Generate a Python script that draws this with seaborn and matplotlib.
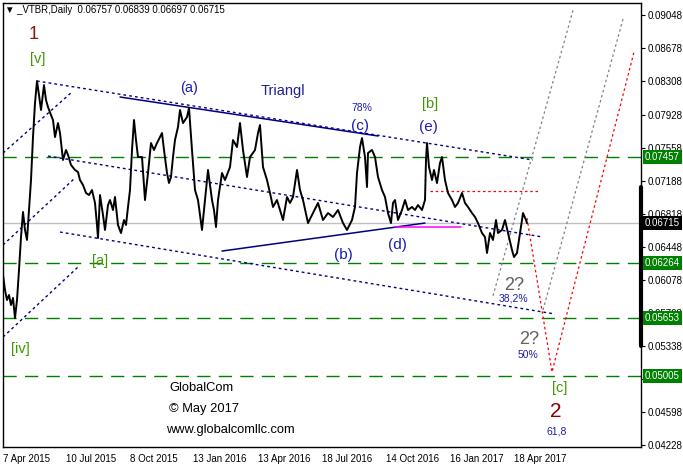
import matplotlib
matplotlib.use("Agg")
import matplotlib.pyplot as plt
import matplotlib.transforms as mtransforms
import seaborn as sns
import pandas as pd

# ---- price series (bar index, close) ----
bars = [0, 2, 4, 6, 8, 10, 12, 14, 16, 18, 20, 22, 24, 26, 28, 30, 32, 34, 36, 38,
        41, 43, 45, 48, 50, 52, 55, 57, 60, 63, 65, 68, 72, 75, 77, 80, 83, 86, 89, 92,
        94, 95, 97, 100, 102, 105, 107, 110, 112, 115, 118, 121, 123, 125, 127, 129, 131, 133, 135, 139,
        142, 145, 148, 151, 154, 157, 159, 161, 164, 166, 168, 170, 172, 175, 177, 180, 184, 186, 189, 192,
        195, 197, 199, 202, 205, 209, 211, 213, 215, 219, 222, 227, 230, 234, 237, 240, 244, 247, 252, 255,
        257, 260, 264, 267, 270, 274, 277, 280, 284, 287, 290, 294, 297, 300, 305, 310, 315, 320, 325, 330,
        335, 340, 344, 349, 352, 354, 357, 359, 362, 364, 365, 369, 372, 375, 379, 382, 385, 388, 390, 392,
        395, 399, 402, 405, 409, 412, 415, 419, 422, 423, 424, 426, 429, 431, 434, 437, 439, 442, 445, 449,
        452, 455, 459, 462, 465, 469, 472, 475, 479, 482, 484, 487, 490, 493, 495, 499, 502, 505, 509, 511,
        514, 516, 519, 520, 523, 524]
closes = [0.06133, 0.05965, 0.05853, 0.05909, 0.05797, 0.05876, 0.05651, 0.05853, 0.06189, 0.06559,
          0.06840, 0.06638, 0.06526, 0.06862, 0.07198, 0.07680, 0.08062, 0.08308, 0.08151, 0.07983,
          0.08263, 0.08095, 0.08017, 0.07927, 0.07871, 0.07680, 0.07837, 0.07725, 0.07423, 0.07535,
          0.07479, 0.07367, 0.07311, 0.07288, 0.07198, 0.07142, 0.07053, 0.07030, 0.07086, 0.06941,
          0.06694, 0.06548, 0.07030, 0.06806, 0.06638, 0.06918, 0.06974, 0.06862, 0.07008, 0.06694,
          0.06604, 0.06750, 0.06694, 0.06896, 0.07086, 0.07535, 0.07871, 0.07647, 0.07456, 0.07456,
          0.06974, 0.07277, 0.07613, 0.07535, 0.07613, 0.07680, 0.07725, 0.07535, 0.07277, 0.07165,
          0.07232, 0.07456, 0.07647, 0.07793, 0.07983, 0.07837, 0.07905, 0.08006, 0.07535, 0.07086,
          0.06974, 0.06806, 0.06638, 0.06974, 0.07311, 0.06974, 0.06862, 0.06671, 0.06974, 0.07277,
          0.07198, 0.07344, 0.07647, 0.07568, 0.07837, 0.07535, 0.07232, 0.07456, 0.07535, 0.07725,
          0.07815, 0.07344, 0.07198, 0.07053, 0.06896, 0.06974, 0.06862, 0.06750, 0.07008, 0.06941,
          0.07008, 0.07311, 0.07086, 0.06974, 0.06716, 0.06828, 0.06941, 0.06750, 0.06828, 0.06784,
          0.06862, 0.06716, 0.06638, 0.06750, 0.06896, 0.07277, 0.07568, 0.07669, 0.07456, 0.07120,
          0.07501, 0.07535, 0.07456, 0.07232, 0.07086, 0.07008, 0.06828, 0.06716, 0.06941, 0.06974,
          0.06750, 0.06862, 0.06974, 0.06862, 0.06896, 0.06862, 0.06918, 0.06862, 0.06974, 0.07423,
          0.07613, 0.07344, 0.07198, 0.07311, 0.07165, 0.07389, 0.07456, 0.07198, 0.07053, 0.06974,
          0.06896, 0.06941, 0.07053, 0.06941, 0.06896, 0.06828, 0.06784, 0.06716, 0.06604, 0.06559,
          0.06380, 0.06604, 0.06526, 0.06750, 0.06604, 0.06638, 0.06750, 0.06604, 0.06414, 0.06335,
          0.06380, 0.06526, 0.06750, 0.06828, 0.06750, 0.06715]

# axis labels
date_ticks = [0, 63, 127, 190, 255, 319, 383, 447, 511]
date_labels = ["7 Apr 2015", "10 Jul 2015", "8 Oct 2015", "13 Jan 2016", "13 Apr 2016",
               "18 Jul 2016", "14 Oct 2016", "16 Jan 2017", "18 Apr 2017"]
price_ticks = [0.09048, 0.08678, 0.08308, 0.07928, 0.07558, 0.07188, 0.06818,
               0.06448, 0.06078, 0.05708, 0.05338, 0.04968, 0.04598, 0.04228]
price_tick_labels = ["0.09048", "0.08678", "0.08308", "0.07928", "0.07558", "0.07188", "0.06818",
                     "0.06448", "0.06078", "0.05708", "0.05338", "0.04968", "0.04598", "0.04228"]

# horizontal levels
green_levels = [0.07457, 0.06264, 0.05653, 0.05005]
current_price = 0.06715

# trend / channel lines: (x0, y0, x1, y1)
navy_dotted = [(34, 0.08308, 530, 0.07423),
               (45, 0.07467, 540, 0.06559),
               (57, 0.06615, 552, 0.05696),
               (0, 0.07501, 69, 0.08185),
               (0, 0.06470, 72, 0.07221),
               (0, 0.05438, 75, 0.06223)]
navy_solid = [(117, 0.08129, 375, 0.07692),
              (219, 0.06402, 422, 0.06716)]
magenta_line = (392, 0.06671, 458, 0.06671)
red_hline = (427, 0.07075, 537, 0.07075)
red_path_x = [524, 549, 631]
red_path_y = [0.06772, 0.05046, 0.08633]
grey_lines = [(540, 0.05741, 620, 0.09003),
              (490, 0.05900, 570, 0.09100)]

sns.set_theme(style="white")
plt.rcParams["font.family"] = ["Liberation Sans", "DejaVu Sans"]

fig = plt.figure(figsize=(6.83, 4.68), dpi=100)
ax = fig.add_axes([3 / 683, 1 - 447 / 468, 638 / 683, 444 / 468])
ax.set_facecolor("white")

df = pd.DataFrame({"bar": bars, "close": closes})

# levels
for lv in green_levels:
    ax.axhline(lv, color="#008000", lw=1.0, ls=(0, (9.5, 6)), zorder=1)
ax.axhline(current_price, color="#C0C0C0", lw=1.0, zorder=1)

for x0, y0, x1, y1 in navy_dotted:
    ax.plot([x0, x1], [y0, y1], color="#000080", lw=1.0, ls=(0, (2, 2.2)), zorder=2)
for x0, y0, x1, y1 in navy_solid:
    ax.plot([x0, x1], [y0, y1], color="#000080", lw=1.1, zorder=2)
ax.plot([magenta_line[0], magenta_line[2]], [magenta_line[1], magenta_line[3]], color="#FF00FF", lw=1.1, zorder=2)
ax.plot([red_hline[0], red_hline[2]], [red_hline[1], red_hline[3]], color="#FF0000", lw=0.9, ls=(0, (2, 2.2)), zorder=2)
ax.plot(red_path_x, red_path_y, color="#FF0000", lw=0.9, ls=(0, (2, 2.2)), zorder=2)
for x0, y0, x1, y1 in grey_lines:
    ax.plot([x0, x1], [y0, y1], color="#808080", lw=0.9, ls=(0, (2, 2.2)), zorder=2)

sns.lineplot(data=df, x="bar", y="close", ax=ax, color="black", lw=1.4, zorder=3)

ax.set_xlim(0, 638)
ax.set_ylim(0.04205, 0.09183)
ax.set_xlabel("")
ax.set_ylabel("")

ax.set_xticks(date_ticks)
ax.set_xticklabels(date_labels, fontsize=7, ha="left")
ax.yaxis.tick_right()
ax.set_yticks(price_ticks)
ax.set_yticklabels(price_tick_labels, fontsize=7)
ax.tick_params(axis="both", direction="out", length=3, width=0.8, colors="black", pad=1.5)
ax.tick_params(axis="x", pad=2)
for s in ax.spines.values():
    s.set_color("black")
    s.set_linewidth(1.0)

# thick bar on right spine
trans_r = mtransforms.blended_transform_factory(ax.transAxes, ax.transData)
ax.plot([1.0, 1.0], [0.07120, 0.05340], transform=trans_r, color="black", lw=3, clip_on=False, zorder=5)

# price boxes
def price_box(val, fc):
    ax.text(1.006, val, f"{val:.5f}", transform=trans_r, fontsize=7, color="white",
            va="center", ha="left", clip_on=False, zorder=6,
            bbox=dict(boxstyle="square,pad=0.2", fc=fc, ec="none"))

for lv in green_levels:
    price_box(lv, "#008000")
price_box(current_price, "black")

# annotations
navy = "#1C1CB4"
green = "#3C9A00"
darkred = "#8B0000"

ax.text(2, 0.09183 - 0.00075, "\u25BC _VTBR,Daily  0.06757 0.06839 0.06697 0.06715",
        fontsize=6.9, color="black", va="center", ha="left")
ax.text(31, 0.08830, "1", fontsize=13, color="#8B1A00", ha="center", va="center")
ax.text(35, 0.08550, "[v]", fontsize=10.5, color=green, ha="center", va="center")
ax.text(186, 0.08230, "(a)", fontsize=10.5, color=navy, ha="center", va="center")
ax.text(280, 0.08200, "Triangl", fontsize=10.5, color="#202090", ha="center", va="center")
ax.text(359, 0.08010, "78%", fontsize=7.5, color=navy, ha="center", va="center")
ax.text(357, 0.07800, "(c)", fontsize=11, color=navy, ha="center", va="center")
ax.text(427, 0.08050, "[b]", fontsize=10.5, color=green, ha="center", va="center")
ax.text(425, 0.07790, "(e)", fontsize=11, color=navy, ha="center", va="center")
ax.text(340, 0.06355, "(b)", fontsize=11, color=navy, ha="center", va="center")
ax.text(394, 0.06470, "(d)", fontsize=11, color=navy, ha="center", va="center")
ax.text(97, 0.06290, "[a]", fontsize=10.5, color=green, ha="center", va="center")
ax.text(17, 0.05300, "[iv]", fontsize=10.5, color=green, ha="center", va="center")
ax.text(511, 0.06020, "2?", fontsize=13, color="#606060", ha="center", va="center")
ax.text(510, 0.05870, "38,2%", fontsize=7.5, color=navy, ha="center", va="center")
ax.text(526, 0.05410, "2?", fontsize=13, color="#606060", ha="center", va="center")
ax.text(525, 0.05240, "50%", fontsize=7.5, color=navy, ha="center", va="center")
ax.text(557, 0.04870, "[c]", fontsize=10.5, color=green, ha="center", va="center")
ax.text(553, 0.04600, "2", fontsize=15, color=darkred, ha="center", va="center")
ax.text(554, 0.04380, "61,8", fontsize=7.5, color=navy, ha="center", va="center")
ax.text(166, 0.04870, "GlobalCom", fontsize=9.3, color="black", ha="left", va="center")
ax.text(166, 0.04630, "\u00A9 May 2017", fontsize=9.3, color="black", ha="left", va="center")
ax.text(163, 0.04400, "www.globalcomllc.com", fontsize=9.3, color="black", ha="left", va="center")

fig.savefig("out.png", dpi=100)
